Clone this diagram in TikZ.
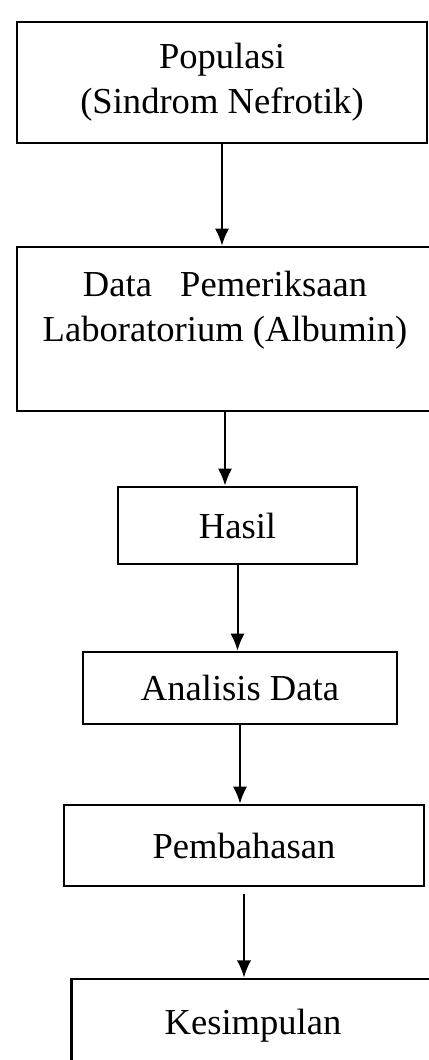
\documentclass[tikz,border=0pt]{standalone}
\usepackage{fontspec}
\setmainfont{Liberation Serif}
\usepackage{tikz}
\usetikzlibrary{arrows.meta, positioning}
\tikzset{>={Latex[length=6pt,width=5pt]}}
\tikzset{box/.style={draw, line width=0.9pt, align=center, inner sep=0pt,
    font=\fontsize{12.8}{15.8}\selectfont}}
\tikzset{flow/.style={->, line width=0.7pt}}

\begin{document}
\begin{tikzpicture}[x=0.35pt, y=-0.35pt]
        \useasboundingbox (0,0) rectangle (429,1060);
        \node[box, minimum width=143.5pt, minimum height=42.35pt] (populasi) at (222,82.5)
          {Populasi\\(Sindrom Nefrotik)};
        \node[box, minimum width=145.6pt, minimum height=57.4pt] (data) at (225,329)
          {Data\hspace{0.77em}Pemeriksaan\\Laboratorium (Albumin)\\\mbox{}};
        \node[box, minimum width=83.65pt, minimum height=26.95pt] (hasil) at (237.5,525.5) {Hasil};
        \node[box, minimum width=109.9pt, minimum height=25.2pt] (analisis) at (240,688) {Analisis Data};
        \node[box, minimum width=126pt, minimum height=28.35pt] (bahas) at (244,845.5) {Pembahasan};
        \node[box, minimum width=127.05pt, minimum height=33pt] (simpul) at (253,1026) {Kesimpulan};
        \draw[flow] (populasi.south) -- (populasi.south |- data.north);
        \draw[flow] (data.south) -- (data.south |- hasil.north);
        \draw[flow] (hasil.south) -- (hasil.south |- analisis.north);
        \draw[flow] (analisis.south) -- (analisis.south |- bahas.north);
        \draw[flow, shorten <=2.4pt] (bahas.south) -- (bahas.south |- simpul.north);
      \end{tikzpicture}
\end{document}
